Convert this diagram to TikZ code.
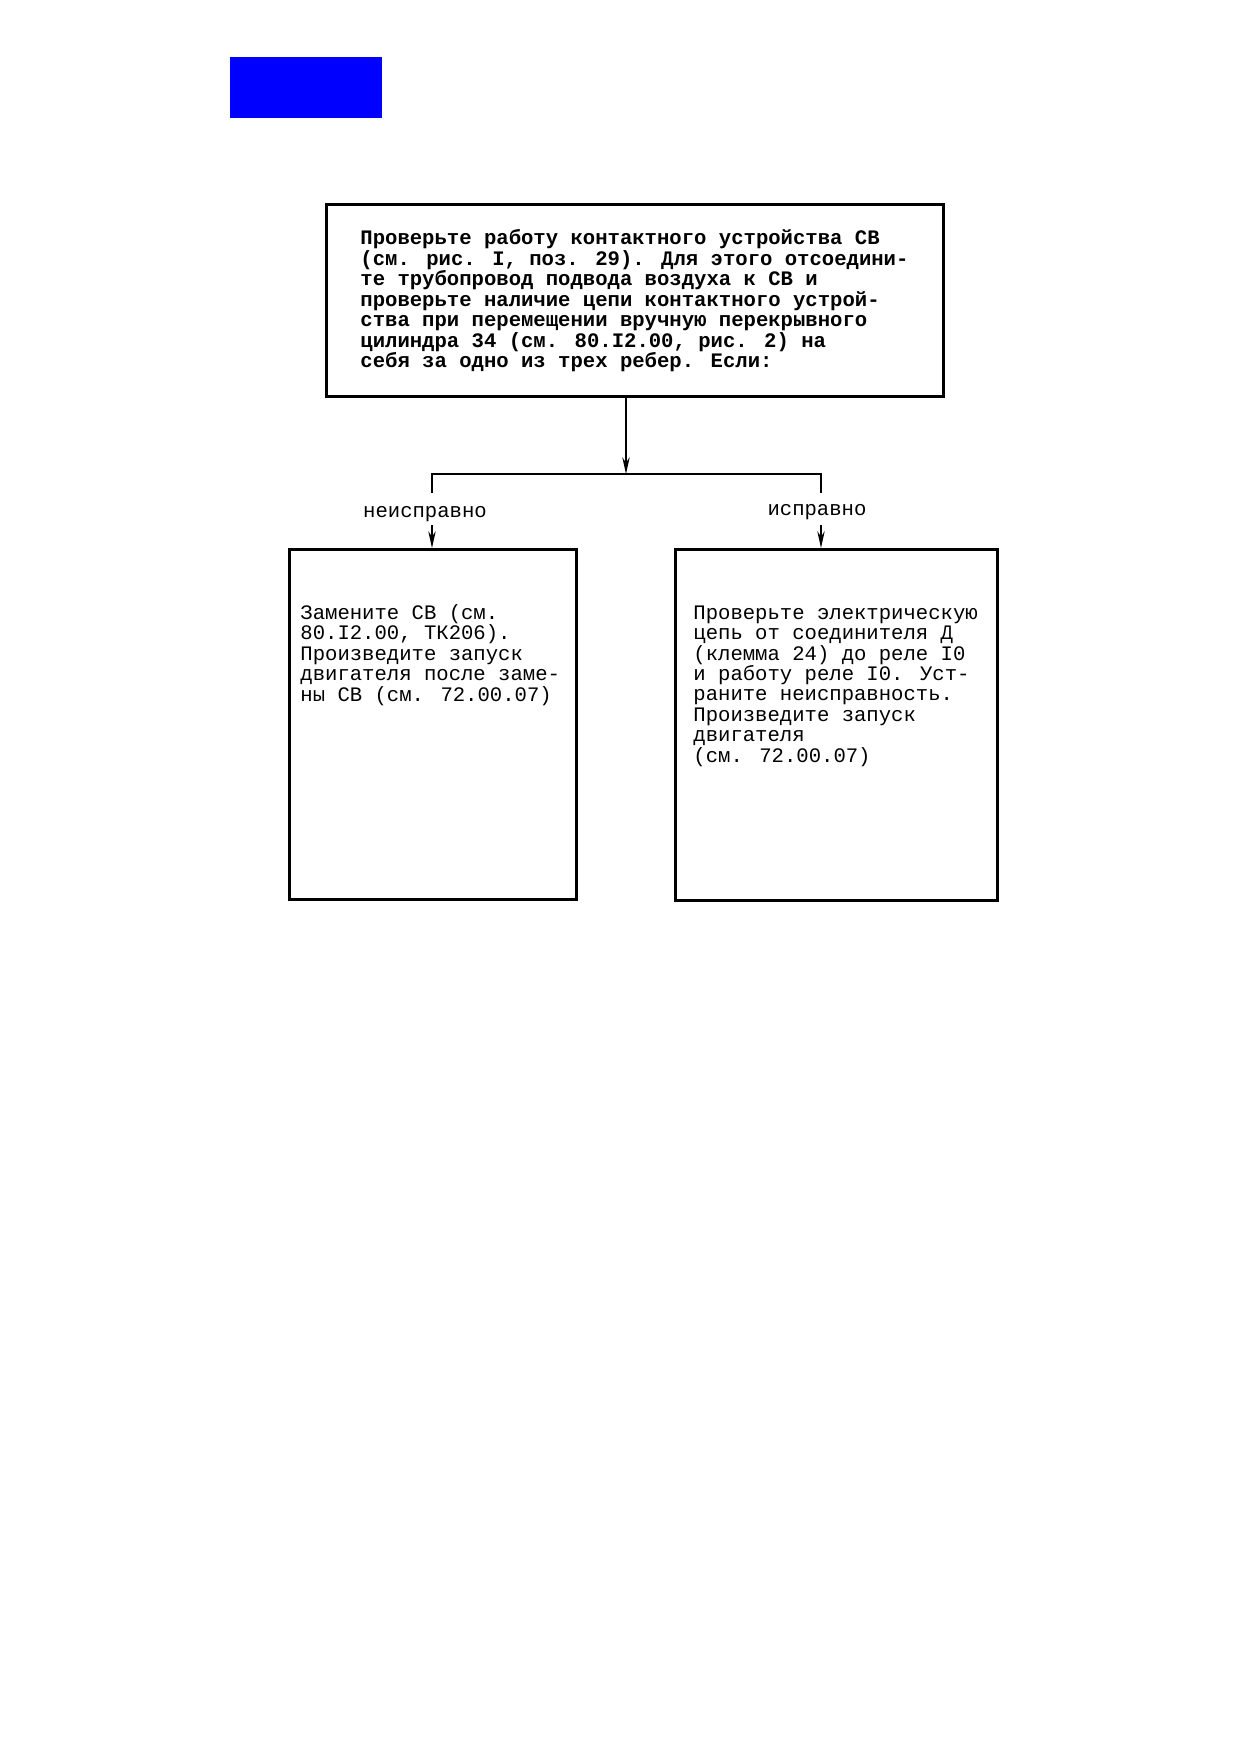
\documentclass[tikz,border=0pt]{standalone}
\usepackage{fontspec}
\setmainfont{Liberation Mono}
\usetikzlibrary{arrows.meta}
\begin{document}
\begin{tikzpicture}[x=0.4805pt,y=-0.4805pt,
  box/.style={draw,line width=1.5pt,rectangle,inner sep=0pt,anchor=north west},
  txt/.style={anchor=north west,inner sep=0pt,align=left,font=\fontsize{9.9}{9.85}\selectfont},
  lbl/.style={inner sep=0pt,font=\fontsize{9.9}{9.85}\selectfont},
  conn/.style={line width=1pt},
  arr/.style={line width=1pt,-{Stealth[length=8pt,width=3.5pt]}}]
\useasboundingbox (0,0) rectangle (1239,1754);
\fill[blue] (230,57) rectangle (382,118);
% boxes
\node[box,minimum width=617*0.4805pt,minimum height=192*0.4805pt] (top) at (325,203) {};
\node[box,minimum width=287*0.4805pt,minimum height=350*0.4805pt] (lbox) at (288,548) {};
\node[box,minimum width=322*0.4805pt,minimum height=351*0.4805pt] (rbox) at (674,548) {};
% texts
\node[txt,font=\fontsize{9.9}{9.85}\selectfont\bfseries] (ttop) at (360,229) {Проверьте работу контактного устройства СВ\\(см. рис. I, поз. 29). Для этого отсоедини-\\те трубопровод подвода воздуха к СВ и\\проверьте наличие цепи контактного устрой-\\ства при перемещении вручную перекрывного\\цилиндра 34 (см. 80.I2.00, рис. 2) на\\себя за одно из трех ребер. Если:};
\node[txt] (tl) at (300,604) {Замените СВ (см.\\80.I2.00, ТК206).\\Произведите запуск\\двигателя после заме-\\ны СВ (см. 72.00.07)};
\node[txt] (tr) at (693,605) {Проверьте электрическую\\цепь от соединителя Д\\(клемма 24) до реле I0\\и работу реле I0. Уст-\\раните неисправность.\\Произведите запуск\\двигателя\\(см. 72.00.07)};
% connectors
\coordinate (j) at (626,474);
\coordinate (jl) at (432,474);
\coordinate (jr) at (821,474);
\coordinate (ml) at (432,493);
\coordinate (mr) at (821,493);
\coordinate (sl) at (432,525);
\coordinate (sr) at (821,525);
\draw[arr] (top.south -| j) -- (j);
\draw[conn] (ml) -- (jl) -- (jr) -- (mr);
\node[lbl] (nl) at (425,514) {неисправно};
\node[lbl] (nr) at (817,512) {исправно};
\draw[arr] (sl) -- (lbox.north -| sl);
\draw[arr] (sr) -- (rbox.north -| sr);
\end{tikzpicture}
\end{document}
